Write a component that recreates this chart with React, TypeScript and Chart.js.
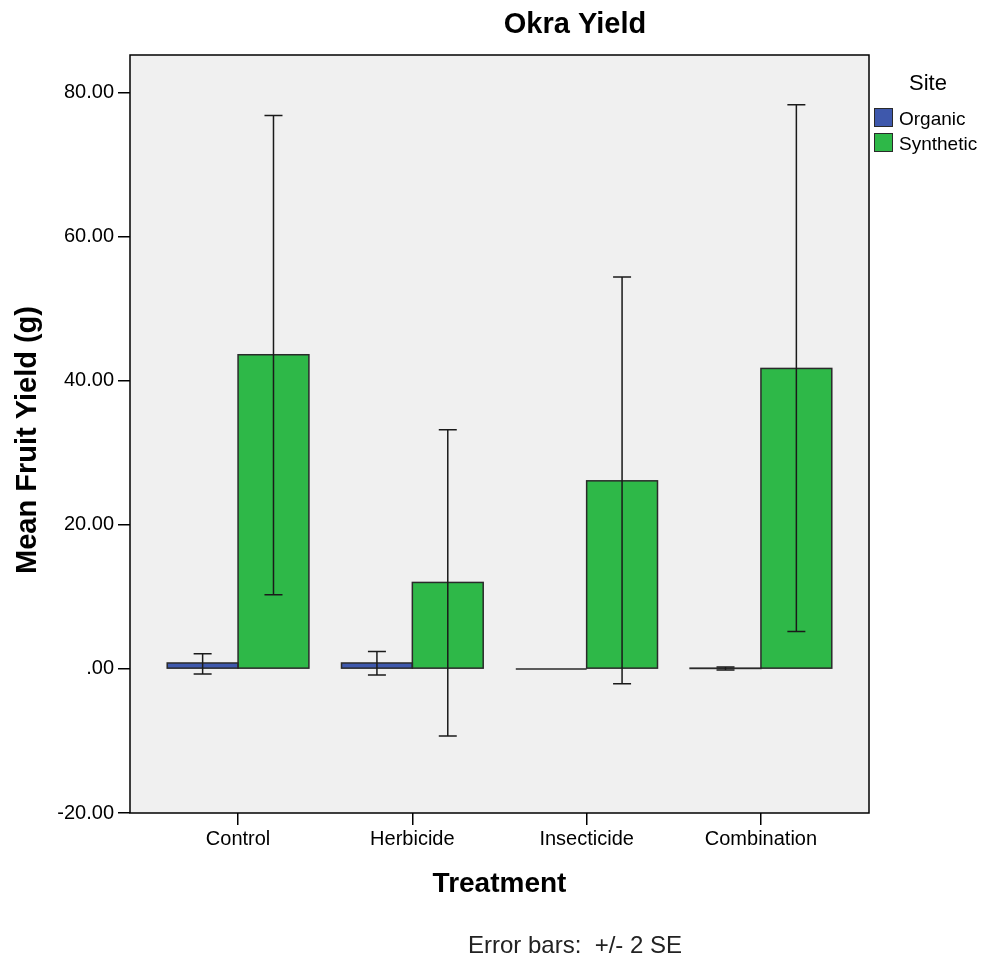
import React, { useEffect, useRef } from 'react';
import { Chart, registerables } from 'chart.js';

Chart.register(...registerables);

const categories = ['Control', 'Herbicide', 'Insecticide', 'Combination'];
const seriesNames = ['Organic', 'Synthetic'];
const organicMeans = [0.82, 0.82, 0, 0.06];
const organicLow: (number | null)[] = [-0.7, -0.85, null, -0.15];
const organicHigh: (number | null)[] = [2.1, 2.4, null, 0.25];
const syntheticMeans = [43.6, 12.0, 26.1, 41.7];
const syntheticLow: (number | null)[] = [10.3, -9.3, -2.05, 5.2];
const syntheticHigh: (number | null)[] = [76.8, 33.2, 54.4, 78.3];
const yTicks = [-20, 0, 20, 40, 60, 80];
const Y_MIN = -20;
const Y_MAX = 85.2;
const seriesColors = ['#3e58ac', '#2eb848'];
const chartTitle = 'Okra Yield';
const xTitle = 'Treatment';
const yTitle = 'Mean Fruit Yield (g)';
const legendTitle = 'Site';
const footNote = 'Error bars:  +/- 2 SE';

const FONT = '"Liberation Sans", Arial, sans-serif';

const fmt = (v: number) => (v === 0 ? '.00' : v.toFixed(2));

const errLows = [organicLow, syntheticLow];
const errHighs = [organicHigh, syntheticHigh];

const drawPlugin = {
  id: 'spssDecor',
  beforeDraw(chart: any) {
    const { ctx, chartArea: a } = chart;
    ctx.save();
    ctx.fillStyle = '#f0f0f0';
    ctx.fillRect(a.left, a.top, a.right - a.left, a.bottom - a.top);
    ctx.restore();
  },
  afterDatasetsDraw(chart: any) {
    const { ctx } = chart;
    const yScale = chart.scales.y;
    ctx.save();
    // bar outlines
    ctx.strokeStyle = '#2a2a2a';
    ctx.lineWidth = 1.5;
    chart.data.datasets.forEach((_ds: any, di: number) => {
      const meta = chart.getDatasetMeta(di);
      meta.data.forEach((bar: any) => {
        const p = bar.getProps(['x', 'y', 'base', 'width'], true);
        const top = Math.min(p.y, p.base);
        const h = Math.abs(p.base - p.y);
        ctx.strokeRect(p.x - p.width / 2, top, p.width, h);
      });
    });
    // error bars
    ctx.strokeStyle = '#1a1a1a';
    ctx.lineWidth = 1.5;
    const cap = 9;
    chart.data.datasets.forEach((_ds: any, di: number) => {
      const meta = chart.getDatasetMeta(di);
      meta.data.forEach((bar: any, i: number) => {
        const lo = errLows[di][i];
        const hi = errHighs[di][i];
        if (lo == null || hi == null) return;
        const x = bar.getProps(['x'], true).x;
        const yl = yScale.getPixelForValue(lo);
        const yh = yScale.getPixelForValue(hi);
        ctx.beginPath();
        ctx.moveTo(x, yl);
        ctx.lineTo(x, yh);
        ctx.moveTo(x - cap, yl);
        ctx.lineTo(x + cap, yl);
        ctx.moveTo(x - cap, yh);
        ctx.lineTo(x + cap, yh);
        ctx.stroke();
      });
    });
    ctx.restore();
  },
  afterDraw(chart: any) {
    const { ctx, chartArea: a } = chart;
    ctx.save();
    // plot frame
    ctx.strokeStyle = '#000';
    ctx.lineWidth = 1.5;
    ctx.strokeRect(a.left, a.top, a.right - a.left, a.bottom - a.top);

    ctx.fillStyle = '#000';
    // main title
    ctx.font = `bold 29px ${FONT}`;
    ctx.textAlign = 'center';
    ctx.textBaseline = 'alphabetic';
    ctx.fillText(chartTitle, 567, 25);

    // y axis title
    ctx.save();
    ctx.translate(20, 432);
    ctx.rotate(-Math.PI / 2);
    ctx.textBaseline = 'middle';
    ctx.font = `bold 29px ${FONT}`;
    ctx.fillText(yTitle, 0, 0);
    ctx.restore();

    // legend
    ctx.font = `22px ${FONT}`;
    ctx.fillText(legendTitle, 920, 82);
    ctx.textAlign = 'left';
    ctx.font = `19px ${FONT}`;
    seriesNames.forEach((name, i) => {
      const by = 100 + i * 25;
      ctx.fillStyle = seriesColors[i];
      ctx.fillRect(866, by, 19, 19);
      ctx.strokeStyle = '#2a2a2a';
      ctx.lineWidth = 1;
      ctx.strokeRect(866.5, by + 0.5, 18, 18);
      ctx.fillStyle = '#000';
      ctx.fillText(name, 891, by + 17);
    });

    // foot note
    ctx.textAlign = 'center';
    ctx.font = `24px ${FONT}`;
    ctx.fillStyle = '#222';
    ctx.fillText(footNote, 567, 945);
    ctx.restore();
  },
};

export default function App() {
  const ref = useRef<HTMLCanvasElement | null>(null);
  useEffect(() => {
    if (!ref.current) return;
    const chart = new Chart(ref.current, {
      type: 'bar',
      data: {
        datasets: [
          {
            label: seriesNames[0],
            data: organicMeans.map((v, i) => ({ x: i, y: v })),
            backgroundColor: seriesColors[0],
            borderWidth: 0,
            categoryPercentage: 0.813,
            barPercentage: 1,
          },
          {
            label: seriesNames[1],
            data: syntheticMeans.map((v, i) => ({ x: i, y: v })),
            backgroundColor: seriesColors[1],
            borderWidth: 0,
            categoryPercentage: 0.813,
            barPercentage: 1,
          },
        ],
      } as any,
      options: {
        animation: false,
        responsive: false,
        layout: { padding: { top: 47, right: 110, bottom: 57, left: 0 } },
        plugins: {
          legend: { display: false },
          title: { display: false },
          tooltip: { enabled: false },
        },
        scales: {
          x: {
            type: 'linear',
            min: -0.62,
            max: 3.62,
            offset: false,
            afterBuildTicks: (s: any) => {
              s.ticks = categories.map((_c, i) => ({ value: i }));
            },
            afterFit: (s: any) => {
              s.height = 88;
            },
            ticks: {
              callback: (v: any) => categories[v] ?? '',
              font: { family: FONT, size: 20 },
              color: '#000',
              padding: 2,
              autoSkip: false,
              maxRotation: 0,
            },
            grid: { offset: false, drawOnChartArea: false, drawTicks: true, tickLength: 12, color: '#000', lineWidth: 1.5 },
            border: { display: false },
            title: {
              display: true,
              text: xTitle,
              font: { family: FONT, size: 28, weight: 'bold' },
              color: '#000',
              padding: 0,
            },
          },
          y: {
            type: 'linear',
            min: Y_MIN,
            max: Y_MAX,
            afterBuildTicks: (s: any) => {
              s.ticks = yTicks.map((v) => ({ value: v }));
            },
            afterFit: (s: any) => {
              s.width = 122;
            },
            ticks: {
              callback: (v: any) => fmt(Number(v)),
              font: { family: FONT, size: 20 },
              color: '#000',
              padding: 4,
            },
            grid: { drawOnChartArea: false, drawTicks: true, tickLength: 12, color: '#000', lineWidth: 1.5 },
            border: { display: false },
            title: { display: false },
          },
        },
      } as any,
      plugins: [drawPlugin],
    });
    return () => chart.destroy();
  }, []);
  return <canvas ref={ref} width={971} height={950} style={{ display: 'block' }} />;
}
